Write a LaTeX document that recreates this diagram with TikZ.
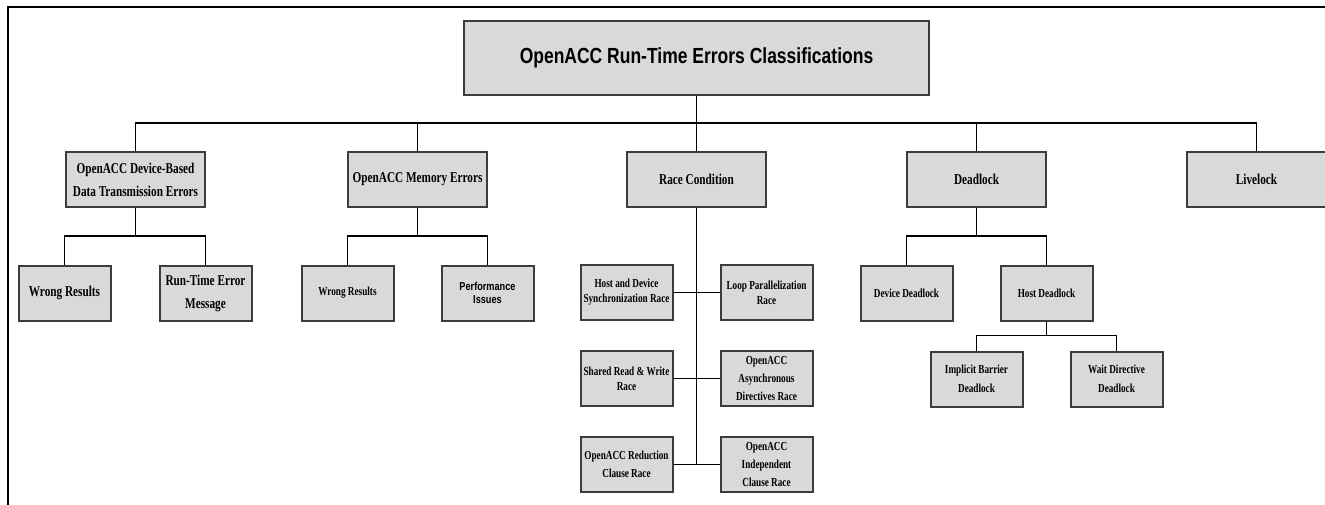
\documentclass[tikz,border=0pt]{standalone}
\usepackage{fontspec}
\setmainfont{Liberation Serif}
\newfontfamily\labfont[FakeStretch=0.75]{Liberation Serif}
\newfontfamily\titlefont[FakeStretch=0.8]{Liberation Sans}
\definecolor{boxfill}{HTML}{D9D9D9}
\definecolor{boxline}{HTML}{3C3C3C}
\tikzset{
  box/.style={draw=boxline, fill=boxfill, line width=1.5pt, align=center, inner sep=0pt},
  bigbox/.style={box, minimum width=104.25pt, minimum height=41.25pt,
    font=\labfont\bfseries\fontsize{11.25}{17.25}\selectfont},
  smallbox/.style={box, minimum width=69pt, minimum height=41.25pt,
    font=\labfont\bfseries\fontsize{9.2}{11.25}\selectfont},
  loose/.style={font=\labfont\bfseries\fontsize{9.2}{13.5}\selectfont},
  link/.style={line width=1.1pt}
}
\begin{document}
\begin{tikzpicture}[x=0.75pt,y=-0.75pt]
\useasboundingbox (0,0) rectangle (1325,504);
\draw[line width=1.9pt] (8,510) -- (8,7) -- (1330,7);

% root
\node[box, minimum width=348.75pt, minimum height=55.5pt,
  font=\titlefont\bfseries\fontsize{16.4}{19}\selectfont] (root) at (696.5,58)
  {OpenACC Run-Time Errors Classifications};
\coordinate (bus) at (696.5,123);

% first level
\node[bigbox] (dtrans) at (135.5,179.5) {OpenACC Device-Based\\Data Transmission Errors};
\node[bigbox] (memerr) at (417.5,179.5) {OpenACC Memory Errors};
\node[bigbox] (race) at (696.5,179.5) {Race Condition};
\node[bigbox] (deadlock) at (976.5,179.5) {Deadlock};
\node[bigbox] (livelock) at (1256.5,179.5) {Livelock};

% second level
\node[smallbox, font=\labfont\bfseries\fontsize{11.25}{17.25}\selectfont] (dtwrong) at (64.5,293) {Wrong Results};
\node[smallbox, font=\labfont\bfseries\fontsize{11.25}{17.25}\selectfont] (dtmsg) at (205.5,293) {Run-Time Error\\Message};
\node[smallbox] (memwrong) at (347.5,293) {Wrong Results};
\node[smallbox, font=\titlefont\bfseries\fontsize{8.6}{9.75}\selectfont] (memperf) at (487.5,293) {Performance\\Issues};
\node[smallbox] (devdead) at (906.5,293) {Device Deadlock};
\node[smallbox] (hostdead) at (1046.5,293) {Host Deadlock};

% race condition kinds
\node[smallbox] (hdsync) at (626.5,292.5) {Host and Device\\Synchronization Race};
\node[smallbox] (looppar) at (766.5,292.5) {Loop Parallelization\\Race};
\node[smallbox] (sharedrw) at (626.5,378.5) {Shared Read \& Write\\Race};
\node[smallbox, loose] (asyncdir) at (766.5,378.5) {OpenACC\\Asynchronous\\Directives Race};
\node[smallbox, font=\labfont\bfseries\fontsize{9.2}{13.25}\selectfont] (reduction) at (626.5,464.5) {OpenACC Reduction\\Clause Race};
\node[smallbox, loose] (independent) at (766.5,464.5) {OpenACC\\Independent\\Clause Race};
\coordinate (raceend) at (696.5,464);

% host deadlock kinds
\node[smallbox, font=\labfont\bfseries\fontsize{9.2}{14.25}\selectfont] (implicit) at (976.5,379) {Implicit Barrier\\Deadlock};
\node[smallbox, font=\labfont\bfseries\fontsize{9.2}{14.25}\selectfont] (waitdir) at (1116.5,379) {Wait Directive\\Deadlock};

% connectors
\draw[link] (root) -- (race);
\foreach \n in {dtrans,memerr,deadlock,livelock}
  \draw[link] (bus) -| (\n);
\foreach \p/\a/\b in {dtrans/dtwrong/dtmsg,memerr/memwrong/memperf,deadlock/devdead/hostdead}{
  \draw[link] (\p.south) -- ++(0,28) -| (\a);
  \draw[link] (\p.south) -- ++(0,28) -| (\b);
}
\draw[link] (hostdead.south) -- ++(0,14) -| (implicit);
\draw[link] (hostdead.south) -- ++(0,14) -| (waitdir);
\draw[link] (race) -- (raceend);
\draw[link] (hdsync) -- (looppar);
\draw[link] (sharedrw) -- (asyncdir);
\draw[link] (reduction) -- (independent);
\end{tikzpicture}
\end{document}
